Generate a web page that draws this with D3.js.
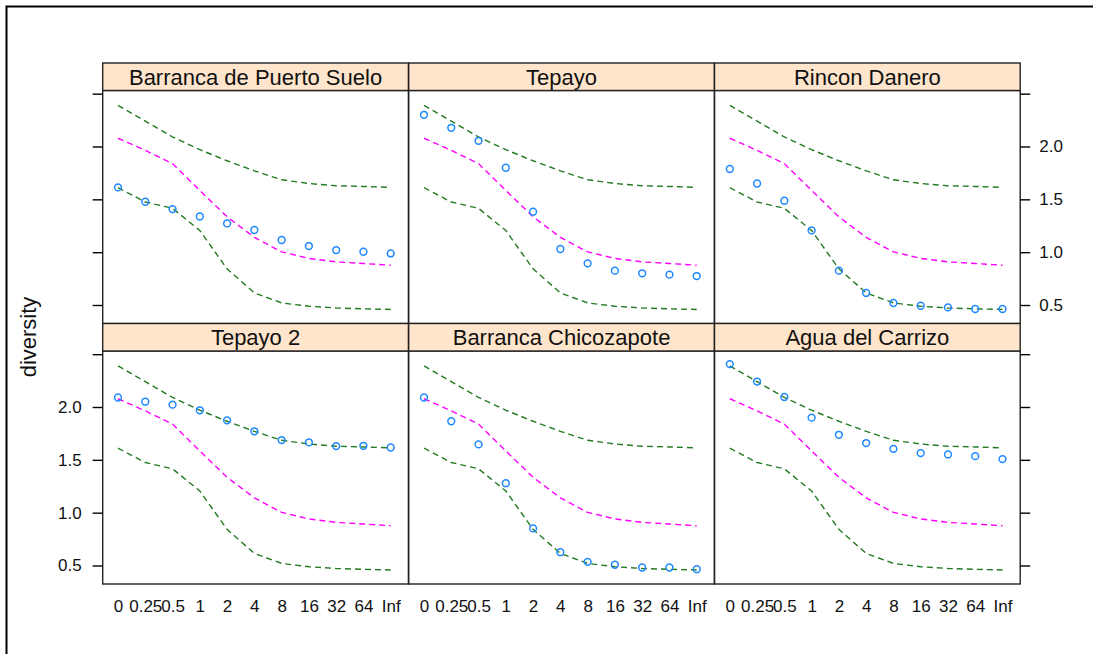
<!DOCTYPE html>
<html>
<head>
<meta charset="utf-8">
<script src="https://cdn.jsdelivr.net/npm/d3@7"></script>
<style>
  html, body { margin: 0; padding: 0; background: #fff; }
  svg { display: block; font-family: "Liberation Sans", Arial, sans-serif; }
</style>
</head>
<body>
<svg id="chart" width="1093" height="654"></svg>
<script>
// ---------------- data ----------------
const categories = ["0", "0.25", "0.5", "1", "2", "4", "8", "16", "32", "64", "Inf"];

// envelope shared by every panel
const upperEnvelope = [2.39, 2.24, 2.09, 1.97, 1.865, 1.77, 1.685, 1.65, 1.628, 1.622, 1.613];
const meanCurve     = [2.078, 1.964, 1.838, 1.584, 1.335, 1.14, 1.003, 0.941, 0.908, 0.893, 0.876];
const lowerEnvelope = [1.61, 1.475, 1.415, 1.205, 0.842, 0.615, 0.52, 0.488, 0.472, 0.464, 0.458];

// observed diversity per site
const sites = ["Barranca de Puerto Suelo", "Tepayo", "Rincon Danero",
               "Tepayo 2", "Barranca Chicozapote", "Agua del Carrizo"];
const puertoSuelo   = [1.613, 1.477, 1.408, 1.338, 1.272, 1.21, 1.115, 1.058, 1.02, 1.004, 0.988];
const tepayo        = [2.30, 2.177, 2.054, 1.799, 1.383, 1.03, 0.894, 0.825, 0.80, 0.787, 0.774];
const rinconDanero  = [1.787, 1.65, 1.487, 1.206, 0.825, 0.614, 0.519, 0.493, 0.477, 0.462, 0.462];
const tepayo2       = [2.09, 2.05, 2.022, 1.969, 1.874, 1.77, 1.687, 1.665, 1.63, 1.633, 1.617];
const chicozapote   = [2.09, 1.865, 1.646, 1.279, 0.851, 0.626, 0.535, 0.507, 0.481, 0.481, 0.465];
const aguaCarrizo   = [2.406, 2.241, 2.095, 1.899, 1.737, 1.659, 1.604, 1.564, 1.551, 1.535, 1.507];
const siteValues = [puertoSuelo, tepayo, rinconDanero, tepayo2, chicozapote, aguaCarrizo];

const yTicks = [0.5, 1.0, 1.5, 2.0, 2.5];
const yTickLabels = ["0.5", "1.0", "1.5", "2.0", ""];
const yLabel = "diversity";

// ---------------- layout ----------------
const svg = d3.select("#chart");
const colLeft = [102.7, 408.7, 714.5];
const panelW = 305.7;
const rowTop = [63, 323.5];
const stripH = 27.5;
const panelH = 233;

const green = "#237a23";
const magenta = "#ff00ff";
const blue = "#1e88ff";

// outer frame
svg.append("rect").attr("x", 6.5).attr("y", 6.5).attr("width", 1200).attr("height", 800)
  .attr("fill", "none").attr("stroke", "#000").attr("stroke-width", 2);

const x = d3.scalePoint().domain(categories).range([15.3, 288]);
const y = d3.scaleLinear().domain([0.325, 2.53]).range([panelH, 0]);

sites.forEach((site, i) => {
  const row = Math.floor(i / 3), col = i % 3;
  const gx = colLeft[col], gyStrip = rowTop[row], gy = rowTop[row] + stripH;
  const g = svg.append("g").attr("transform", `translate(${gx},${gy})`);

  // strip
  svg.append("rect").attr("x", gx).attr("y", gyStrip).attr("width", panelW).attr("height", stripH)
    .attr("fill", "#ffe5cc").attr("stroke", "#222").attr("stroke-width", 1.4);
  svg.append("text").attr("x", gx + panelW / 2).attr("y", gyStrip + stripH / 2 + 7.8)
    .attr("text-anchor", "middle").attr("font-size", 22).attr("fill", "#111").text(site);

  const line = d3.line().x((d, k) => x(categories[k])).y(d => y(d));
  const curves = [[upperEnvelope, green], [meanCurve, magenta], [lowerEnvelope, green]];
  curves.forEach(([vals, c]) => {
    g.append("path").datum(vals).attr("d", line).attr("fill", "none")
      .attr("stroke", c).attr("stroke-width", 1.4).attr("stroke-dasharray", "6,4");
  });

  g.selectAll("circle.pt").data(siteValues[i]).enter().append("circle")
    .attr("cx", (d, k) => x(categories[k])).attr("cy", d => y(d)).attr("r", 3.4)
    .attr("fill", "none").attr("stroke", blue).attr("stroke-width", 1.5);

  // panel border
  g.append("rect").attr("width", panelW).attr("height", panelH)
    .attr("fill", "none").attr("stroke", "#222").attr("stroke-width", 1.4);

  // y axes
  if (col === 0) {
    const ax = d3.axisLeft(y).tickValues(yTicks).tickSize(10).tickPadding(11)
      .tickFormat((d, k) => row === 1 ? yTickLabels[k] : "");
    const a = g.append("g").call(ax);
    a.select(".domain").remove();
    a.selectAll("line").attr("stroke", "#000").attr("stroke-width", 1.4);
    a.selectAll("text").attr("font-size", 17).attr("fill", "#111").attr("font-family", null);
  }
  if (col === 2) {
    const ax = d3.axisRight(y).tickValues(yTicks).tickSize(10).tickPadding(9)
      .tickFormat((d, k) => row === 0 ? yTickLabels[k] : "");
    const a = g.append("g").attr("transform", `translate(${panelW},0)`).call(ax);
    a.select(".domain").remove();
    a.selectAll("line").attr("stroke", "#000").attr("stroke-width", 1.4);
    a.selectAll("text").attr("font-size", 17).attr("fill", "#111").attr("font-family", null);
  }
  // x axis labels (bottom row)
  if (row === 1) {
    const ax = d3.axisBottom(x).tickSize(0).tickPadding(16);
    const a = g.append("g").attr("transform", `translate(0,${panelH})`).call(ax);
    a.select(".domain").remove();
    a.selectAll("text").attr("font-size", 17).attr("fill", "#111").attr("font-family", null);
  }
});

svg.append("text").attr("transform", "translate(36,337) rotate(-90)")
  .attr("text-anchor", "middle").attr("font-size", 22).attr("fill", "#111").text(yLabel);
</script>
</body>
</html>
